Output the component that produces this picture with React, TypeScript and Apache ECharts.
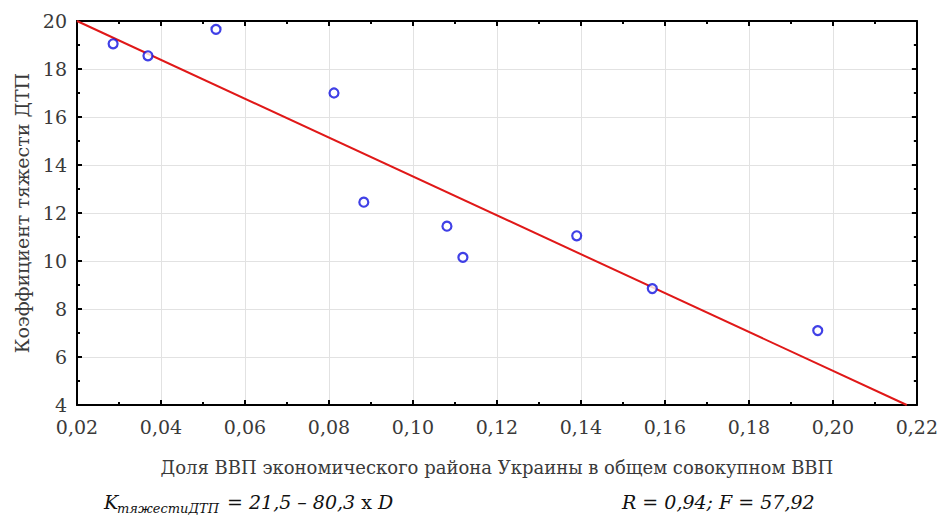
import React, { useEffect, useRef } from "react";
import * as echarts from "echarts";

const shareGDP: number[] = [0.0286, 0.0369, 0.0531, 0.0812, 0.0883, 0.1081, 0.1119, 0.139, 0.157, 0.1964];
const severity: number[] = [19.05, 18.55, 19.65, 17.0, 12.45, 11.45, 10.15, 11.05, 8.85, 7.1];
const fitX: number[] = [0.02, 0.2176];
const fitY: number[] = [20.0, 4.0];

const xTitle = "Доля ВВП экономического района Украины в общем совокупном ВВП";
const yTitle = "Коэффициент тяжести ДТП";
const formulaMain = "K";
const formulaSub = "тяжестиДТП";
const formulaRest = "= 21,5 – 80,3 ";
const formulaX = "x";
const formulaD = " D";
const statsText = "R = 0,94; F = 57,92";

const FONT = "'DejaVu Serif', serif";
const TXT = "#3a3a3a";

export default function App() {
  const ref = useRef<HTMLDivElement>(null);
  useEffect(() => {
    if (!ref.current) return;
    const chart = echarts.init(ref.current, null, { renderer: "svg" });
    const axisCommon = {
      type: "value" as const,
      axisLine: { show: true, onZero: false, lineStyle: { color: "#000", width: 2 } },
      axisTick: { show: true, inside: true, length: 5, lineStyle: { color: "#000", width: 2 } },
      minorTick: { show: true, splitNumber: 2, length: 3, lineStyle: { color: "#000", width: 2 } },
    };
    chart.setOption({
      animation: false,
      backgroundColor: "#fff",
      textStyle: { fontFamily: FONT },
      grid: { left: 77, right: 24, top: 21, bottom: 113, containLabel: false },
      xAxis: [
        {
          ...axisCommon,
          position: "bottom",
          min: 0.02,
          max: 0.22,
          interval: 0.02,
          name: xTitle,
          nameLocation: "middle",
          nameGap: 53,
          nameTextStyle: { fontFamily: FONT, fontSize: 18, color: TXT },
          axisLabel: {
            margin: 12,
            fontFamily: FONT,
            fontSize: 19,
            color: TXT,
            formatter: (v: number) => v.toFixed(2).replace(".", ","),
          },
          splitLine: { show: true, lineStyle: { color: "#e2e2e2", width: 1 } },
        },
        {
          ...axisCommon,
          position: "top",
          min: 0.02,
          max: 0.22,
          interval: 0.02,
          axisLabel: { show: false },
          splitLine: { show: false },
        },
      ],
      yAxis: [
        {
          ...axisCommon,
          position: "left",
          min: 4,
          max: 20,
          interval: 2,
          name: yTitle,
          nameLocation: "middle",
          nameGap: 45,
          nameTextStyle: { fontFamily: FONT, fontSize: 19, color: TXT },
          axisLabel: { margin: 10, fontFamily: FONT, fontSize: 19, color: TXT },
          splitLine: { show: true, lineStyle: { color: "#e2e2e2", width: 1 } },
        },
        {
          ...axisCommon,
          position: "right",
          min: 4,
          max: 20,
          interval: 2,
          axisLabel: { show: false },
          splitLine: { show: false },
        },
      ],
      series: [
        {
          type: "line",
          data: fitX.map((x, i) => [x, fitY[i]]),
          showSymbol: false,
          symbol: "none",
          lineStyle: { color: "#e01818", width: 2 },
          z: 2,
        },
        {
          type: "scatter",
          data: shareGDP.map((x, i) => [x, severity[i]]),
          symbol: "circle",
          symbolSize: 9,
          itemStyle: { color: "#fff", borderColor: "#1010e0", borderWidth: 2.2 },
          z: 3,
        },
      ],
      graphic: [
        {
          type: "text",
          left: 104,
          top: 492,
          style: { text: formulaMain, fontFamily: FONT, fontStyle: "italic", fontSize: 19, fill: "#111" },
        },
        {
          type: "text",
          left: 117,
          top: 502,
          style: { text: formulaSub, fontFamily: FONT, fontStyle: "italic", fontSize: 13, fill: "#111" },
        },
        {
          type: "text",
          left: 227,
          top: 492,
          style: {
            text: `{m|${formulaRest}}{u|${formulaX}}{m|${formulaD}}`,
            rich: {
              m: { fontFamily: FONT, fontStyle: "italic", fontSize: 19, fill: "#111" },
              u: { fontFamily: FONT, fontSize: 19, fill: "#111" },
            },
          },
        },
        {
          type: "text",
          left: 622,
          top: 492,
          style: { text: statsText, fontFamily: FONT, fontStyle: "italic", fontSize: 19, fill: "#111" },
        },
      ],
    });
    return () => chart.dispose();
  }, []);
  return (
    <div
      ref={ref}
      style={{ position: "absolute", left: 0, top: 0, width: 941, height: 518 }}
    />
  );
}
